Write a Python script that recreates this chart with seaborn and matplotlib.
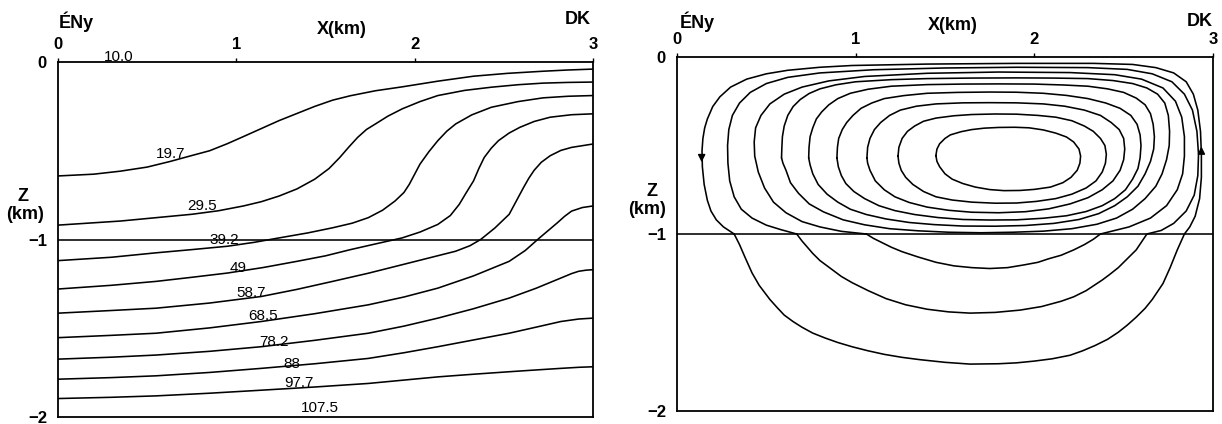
import matplotlib
matplotlib.use("Agg")
import matplotlib.pyplot as plt
import pandas as pd
import seaborn as sns

# ---------------- Left panel: isotherms, (x km, z km) points ----------------
iso_values = ["19.7", "29.5", "39.2", "49", "58.7", "68.5", "78.2", "88", "97.7"]

t197 = [(0.0, -0.642), (0.2, -0.632), (0.35, -0.615), (0.5, -0.592), (0.63, -0.56), (0.75, -0.527),
        (0.85, -0.50), (0.95, -0.46), (1.04, -0.42), (1.14, -0.375), (1.24, -0.33), (1.34, -0.29),
        (1.44, -0.25), (1.54, -0.215), (1.64, -0.19), (1.78, -0.162), (1.93, -0.14), (2.13, -0.108),
        (2.33, -0.08), (2.52, -0.064), (2.72, -0.052), (2.86, -0.045), (3.0, -0.04)]

t295 = [(0.0, -0.919), (0.35, -0.896), (0.75, -0.858), (0.9, -0.838), (1.04, -0.811), (1.14, -0.787),
        (1.24, -0.755), (1.34, -0.715), (1.44, -0.66), (1.52, -0.60), (1.58, -0.538), (1.63, -0.48),
        (1.68, -0.425), (1.73, -0.38), (1.78, -0.349), (1.85, -0.305), (1.93, -0.264), (2.03, -0.223),
        (2.13, -0.189), (2.28, -0.16), (2.43, -0.142), (2.58, -0.128), (2.72, -0.119), (2.86, -0.115),
        (3.0, -0.113)]

t392 = [(0.0, -1.119), (0.3, -1.10), (0.55, -1.075), (0.75, -1.057), (0.95, -1.038), (1.1, -1.016),
        (1.24, -0.991), (1.4, -0.963), (1.54, -0.934), (1.65, -0.908), (1.74, -0.877), (1.82, -0.835),
        (1.89, -0.783), (1.94, -0.735), (1.97, -0.689), (2.0, -0.632), (2.03, -0.575), (2.08, -0.505),
        (2.13, -0.443), (2.18, -0.39), (2.23, -0.349), (2.32, -0.298), (2.43, -0.255), (2.58, -0.223),
        (2.72, -0.202), (2.86, -0.193), (3.0, -0.189)]

t49 = [(0.0, -1.279), (0.3, -1.258), (0.55, -1.236), (0.75, -1.213), (0.95, -1.189), (1.15, -1.158),
       (1.34, -1.123), (1.5, -1.092), (1.64, -1.057), (1.78, -1.025), (1.93, -0.991), (2.03, -0.958),
       (2.13, -0.915), (2.2, -0.865), (2.25, -0.802), (2.29, -0.735), (2.33, -0.67), (2.36, -0.60),
       (2.39, -0.538), (2.43, -0.485), (2.47, -0.443), (2.53, -0.40), (2.59, -0.368), (2.67, -0.335),
       (2.76, -0.311), (2.88, -0.297), (3.0, -0.292)]

t587 = [(0.0, -1.415), (0.3, -1.40), (0.55, -1.387), (0.85, -1.358), (1.14, -1.321), (1.34, -1.281),
        (1.54, -1.236), (1.74, -1.19), (1.93, -1.142), (2.08, -1.104), (2.23, -1.066), (2.31, -1.035),
        (2.37, -1.0), (2.45, -0.935), (2.53, -0.858), (2.57, -0.783), (2.61, -0.708), (2.64, -0.655),
        (2.67, -0.61), (2.71, -0.565), (2.76, -0.528), (2.82, -0.498), (2.88, -0.481), (3.0, -0.462)]

t685 = [(0.0, -1.553), (0.3, -1.54), (0.55, -1.528), (0.85, -1.498), (1.14, -1.462), (1.44, -1.418),
        (1.74, -1.368), (1.94, -1.324), (2.13, -1.274), (2.33, -1.205), (2.53, -1.123), (2.62, -1.062),
        (2.70, -0.991), (2.76, -0.94), (2.80, -0.906), (2.84, -0.87), (2.88, -0.84), (2.94, -0.82),
        (3.0, -0.811)]

t782 = [(0.0, -1.674), (0.3, -1.663), (0.55, -1.651), (0.85, -1.63), (1.14, -1.604), (1.44, -1.568),
        (1.74, -1.528), (1.94, -1.488), (2.13, -1.443), (2.33, -1.39), (2.53, -1.33), (2.68, -1.275),
        (2.82, -1.217), (2.88, -1.192), (2.92, -1.179), (2.96, -1.173), (3.0, -1.17)]

t88 = [(0.0, -1.787), (0.3, -1.778), (0.55, -1.768), (0.85, -1.749), (1.14, -1.726), (1.44, -1.70),
       (1.74, -1.67), (1.94, -1.638), (2.13, -1.604), (2.33, -1.566), (2.53, -1.528), (2.68, -1.494),
       (2.82, -1.462), (2.92, -1.448), (3.0, -1.443)]

t977 = [(0.0, -1.896), (0.3, -1.889), (0.55, -1.881), (0.85, -1.866), (1.14, -1.849), (1.44, -1.831),
        (1.74, -1.811), (1.94, -1.792), (2.13, -1.774), (2.33, -1.759), (2.53, -1.745), (2.68, -1.735),
        (2.82, -1.726), (2.92, -1.72), (3.0, -1.717)]

iso_label_text = ["10.0", "19.7", "29.5", "39.2", "49", "58.7", "68.5", "78.2", "88", "97.7", "107.5"]
iso_label_x = [0.34, 0.63, 0.81, 0.93, 1.01, 1.08, 1.15, 1.21, 1.31, 1.35, 1.47]
iso_label_z = [0.03, -0.52, -0.81, -1.005, -1.16, -1.30, -1.43, -1.58, -1.70, -1.81, -1.95]

# ---------------- Right panel: streamlines of the convection cell ----------------
s1 = [(0.32, -1.0), (0.26, -0.96), (0.22, -0.92), (0.19, -0.87), (0.17, -0.81), (0.152, -0.72),
      (0.142, -0.62), (0.14, -0.53), (0.145, -0.46), (0.155, -0.40), (0.17, -0.35), (0.20, -0.28),
      (0.24, -0.225), (0.30, -0.17), (0.39, -0.125), (0.50, -0.095), (0.62, -0.075), (0.80, -0.058),
      (0.98, -0.048), (1.40, -0.04), (1.90, -0.036), (2.33, -0.036), (2.55, -0.042), (2.68, -0.06),
      (2.78, -0.09), (2.85, -0.14), (2.89, -0.21), (2.915, -0.30), (2.93, -0.42), (2.935, -0.55),
      (2.935, -0.68), (2.925, -0.80), (2.90, -0.90), (2.87, -0.96), (2.84, -1.0), (2.82, -1.045),
      (2.80, -1.09), (2.78, -1.14), (2.76, -1.19), (2.74, -1.235), (2.72, -1.28), (2.69, -1.325),
      (2.66, -1.37), (2.62, -1.42), (2.57, -1.47), (2.52, -1.515), (2.47, -1.555), (2.41, -1.595),
      (2.34, -1.63), (2.27, -1.66), (2.20, -1.685), (2.10, -1.705), (2.00, -1.718), (1.90, -1.728),
      (1.80, -1.733), (1.64, -1.735), (1.50, -1.725), (1.36, -1.71), (1.26, -1.697), (1.16, -1.68),
      (1.07, -1.66), (0.98, -1.637), (0.90, -1.613), (0.83, -1.588), (0.76, -1.56), (0.70, -1.527),
      (0.65, -1.495), (0.60, -1.458), (0.56, -1.415), (0.52, -1.37), (0.49, -1.33), (0.46, -1.29),
      (0.44, -1.255), (0.42, -1.22), (0.40, -1.175), (0.38, -1.13), (0.365, -1.095), (0.35, -1.06),
      (0.335, -1.03), (0.32, -1.0)]

s2 = [(0.67, -1.0), (0.58, -0.975), (0.50, -0.95), (0.42, -0.91), (0.36, -0.86), (0.32, -0.79),
      (0.295, -0.70), (0.285, -0.60), (0.283, -0.50), (0.29, -0.41), (0.31, -0.33), (0.35, -0.26),
      (0.41, -0.20), (0.50, -0.15), (0.62, -0.115), (0.80, -0.09), (1.10, -0.072), (1.50, -0.062),
      (1.90, -0.058), (2.30, -0.06), (2.52, -0.07), (2.66, -0.095), (2.77, -0.14), (2.84, -0.21),
      (2.885, -0.30), (2.91, -0.42), (2.919, -0.55), (2.915, -0.67), (2.895, -0.78), (2.85, -0.87),
      (2.78, -0.94), (2.71, -0.98), (2.63, -1.0), (2.60, -1.045), (2.57, -1.09), (2.52, -1.14),
      (2.47, -1.19), (2.42, -1.23), (2.38, -1.26), (2.29, -1.32), (2.22, -1.355), (2.15, -1.38),
      (2.04, -1.41), (1.92, -1.43), (1.78, -1.443), (1.64, -1.447), (1.52, -1.44), (1.40, -1.425),
      (1.28, -1.40), (1.17, -1.365), (1.07, -1.32), (0.98, -1.275), (0.92, -1.24), (0.88, -1.21),
      (0.84, -1.18), (0.80, -1.15), (0.76, -1.11), (0.73, -1.075), (0.70, -1.04), (0.67, -1.0)]

s3 = [(1.06, -1.0), (0.92, -0.985), (0.80, -0.96), (0.70, -0.93), (0.61, -0.88), (0.54, -0.82),
      (0.49, -0.74), (0.455, -0.65), (0.435, -0.56), (0.432, -0.48), (0.44, -0.40), (0.47, -0.33),
      (0.52, -0.265), (0.60, -0.21), (0.70, -0.17), (0.85, -0.135), (1.05, -0.11), (1.40, -0.092),
      (1.80, -0.085), (2.20, -0.088), (2.45, -0.10), (2.60, -0.125), (2.72, -0.175), (2.79, -0.25),
      (2.825, -0.34), (2.84, -0.45), (2.84, -0.56), (2.83, -0.66), (2.80, -0.75), (2.74, -0.84),
      (2.65, -0.91), (2.53, -0.96), (2.37, -1.0), (2.33, -1.03), (2.28, -1.06), (2.22, -1.09),
      (2.15, -1.12), (2.08, -1.14), (2.02, -1.16), (1.94, -1.175), (1.85, -1.19), (1.75, -1.195),
      (1.65, -1.19), (1.55, -1.18), (1.45, -1.16), (1.35, -1.13), (1.26, -1.10), (1.20, -1.075),
      (1.15, -1.05), (1.10, -1.025), (1.06, -1.0)]

s4 = [(0.585, -0.57), (0.587, -0.51), (0.59, -0.45), (0.60, -0.39), (0.62, -0.33), (0.65, -0.28),
      (0.69, -0.24), (0.74, -0.206), (0.80, -0.18), (0.89, -0.157), (1.00, -0.14), (1.20, -0.128),
      (1.40, -0.122), (1.65, -0.119), (1.90, -0.118), (2.10, -0.119), (2.30, -0.122), (2.44, -0.133),
      (2.55, -0.15), (2.63, -0.175), (2.69, -0.21), (2.73, -0.26), (2.75, -0.33), (2.757, -0.42),
      (2.755, -0.50), (2.74, -0.58), (2.715, -0.66), (2.68, -0.73), (2.62, -0.80), (2.55, -0.86),
      (2.46, -0.91), (2.35, -0.945), (2.21, -0.97), (2.05, -0.984), (1.88, -0.99), (1.70, -0.993),
      (1.52, -0.99), (1.35, -0.982), (1.19, -0.97), (1.05, -0.948), (0.93, -0.92), (0.82, -0.875),
      (0.74, -0.83), (0.68, -0.77), (0.635, -0.71), (0.61, -0.64), (0.593, -0.60), (0.585, -0.57)]

s5 = [(0.737, -0.57), (0.739, -0.51), (0.745, -0.45), (0.76, -0.40), (0.78, -0.35), (0.81, -0.31),
      (0.85, -0.27), (0.90, -0.235), (0.97, -0.205), (1.07, -0.182), (1.20, -0.165), (1.40, -0.156),
      (1.60, -0.153), (1.80, -0.152), (2.00, -0.153), (2.16, -0.158), (2.30, -0.165), (2.41, -0.18),
      (2.50, -0.20), (2.57, -0.232), (2.62, -0.27), (2.65, -0.32), (2.665, -0.38), (2.672, -0.45),
      (2.668, -0.52), (2.65, -0.59), (2.62, -0.66), (2.58, -0.73), (2.52, -0.79), (2.45, -0.84),
      (2.36, -0.885), (2.25, -0.918), (2.11, -0.94), (1.95, -0.952), (1.78, -0.956), (1.60, -0.955),
      (1.44, -0.947), (1.30, -0.935), (1.17, -0.915), (1.06, -0.89), (0.97, -0.86), (0.90, -0.82),
      (0.84, -0.775), (0.79, -0.72), (0.76, -0.66), (0.745, -0.61), (0.737, -0.57)]

s6 = [(0.895, -0.57), (0.898, -0.51), (0.905, -0.46), (0.925, -0.41), (0.95, -0.37), (0.985, -0.33),
      (1.03, -0.29), (1.09, -0.26), (1.16, -0.235), (1.27, -0.218), (1.40, -0.205), (1.57, -0.20),
      (1.75, -0.198), (1.90, -0.199), (2.05, -0.205), (2.18, -0.217), (2.30, -0.235), (2.40, -0.26),
      (2.48, -0.29), (2.54, -0.33), (2.575, -0.38), (2.592, -0.44), (2.597, -0.50), (2.592, -0.57),
      (2.58, -0.63), (2.55, -0.69), (2.51, -0.75), (2.45, -0.80), (2.38, -0.84), (2.29, -0.873),
      (2.18, -0.897), (2.05, -0.911), (1.90, -0.92), (1.75, -0.921), (1.60, -0.918), (1.46, -0.907),
      (1.33, -0.89), (1.22, -0.868), (1.13, -0.84), (1.05, -0.80), (0.99, -0.76), (0.945, -0.715),
      (0.92, -0.67), (0.903, -0.62), (0.895, -0.57)]

s7 = [(1.063, -0.57), (1.067, -0.51), (1.08, -0.46), (1.105, -0.41), (1.14, -0.37), (1.19, -0.33),
      (1.25, -0.30), (1.34, -0.278), (1.45, -0.265), (1.60, -0.259), (1.75, -0.258), (1.90, -0.259),
      (2.05, -0.265), (2.17, -0.278), (2.28, -0.30), (2.37, -0.33), (2.43, -0.37), (2.475, -0.41),
      (2.50, -0.46), (2.506, -0.52), (2.50, -0.58), (2.48, -0.64), (2.44, -0.70), (2.38, -0.75),
      (2.30, -0.795), (2.20, -0.83), (2.08, -0.858), (1.95, -0.874), (1.80, -0.88), (1.65, -0.877),
      (1.52, -0.866), (1.40, -0.848), (1.30, -0.822), (1.22, -0.79), (1.16, -0.75), (1.11, -0.70),
      (1.08, -0.64), (1.067, -0.60), (1.063, -0.57)]

s8 = [(1.237, -0.56), (1.242, -0.51), (1.26, -0.46), (1.29, -0.42), (1.33, -0.39), (1.38, -0.363),
      (1.45, -0.345), (1.55, -0.332), (1.65, -0.325), (1.78, -0.322), (1.90, -0.323), (2.02, -0.33),
      (2.12, -0.34), (2.21, -0.36), (2.28, -0.39), (2.33, -0.42), (2.37, -0.46), (2.395, -0.50),
      (2.403, -0.55), (2.398, -0.60), (2.38, -0.65), (2.345, -0.70), (2.29, -0.74), (2.21, -0.775),
      (2.12, -0.80), (2.01, -0.816), (1.90, -0.825), (1.78, -0.826), (1.65, -0.82), (1.54, -0.808),
      (1.45, -0.79), (1.38, -0.76), (1.32, -0.72), (1.28, -0.68), (1.255, -0.64), (1.242, -0.60),
      (1.237, -0.56)]

s9 = [(1.449, -0.557), (1.455, -0.52), (1.47, -0.49), (1.50, -0.46), (1.53, -0.44), (1.59, -0.422),
      (1.65, -0.41), (1.72, -0.402), (1.80, -0.398), (1.89, -0.397), (1.97, -0.40), (2.05, -0.412),
      (2.12, -0.43), (2.18, -0.452), (2.22, -0.48), (2.25, -0.52), (2.259, -0.56), (2.255, -0.60),
      (2.24, -0.64), (2.205, -0.68), (2.16, -0.71), (2.09, -0.735), (2.00, -0.748), (1.92, -0.754),
      (1.83, -0.755), (1.75, -0.749), (1.67, -0.735), (1.60, -0.715), (1.54, -0.69), (1.50, -0.66),
      (1.47, -0.62), (1.455, -0.59), (1.449, -0.557)]

# flow direction marks on the outermost streamline
arrow_x = [0.138, 2.935]
arrow_z = [-0.58, -0.52]
arrow_dir = [-1, 1]

x_ticks = [0, 1, 2, 3]
z_ticks = [0, -1, -2]
z_tick_labels = ["0", "\u22121", "\u22122"]

# ---------------- long-form tables ----------------
iso_curves = [t197, t295, t392, t49, t587, t685, t782, t88, t977]
iso_df = pd.concat(
    [pd.DataFrame({"x": [p[0] for p in pts], "z": [p[1] for p in pts], "T": v})
     for v, pts in zip(iso_values, iso_curves)], ignore_index=True)

stream_curves = [s1, s2, s3, s4, s5, s6, s7, s8, s9]
stream_df = pd.concat(
    [pd.DataFrame({"x": [p[0] for p in pts], "z": [p[1] for p in pts], "line": i})
     for i, pts in enumerate(stream_curves)], ignore_index=True)

# ---------------- figure ----------------
sns.set_theme(style="white")
plt.rcParams["font.family"] = ["Liberation Sans", "DejaVu Sans"]
W, H = 1222, 424
fig = plt.figure(figsize=(W / 100, H / 100), dpi=100)
fig.patch.set_facecolor("white")

axL = fig.add_axes([58 / W, 7 / H, 535 / W, 355 / H])
axR = fig.add_axes([677 / W, 13 / H, 536 / W, 354 / H])

LW = 1.15
for ax in (axL, axR):
    ax.set_xlim(0, 3)
    ax.set_ylim(-2, 0)
    ax.set_facecolor("white")
    for s in ax.spines.values():
        s.set_visible(True)
        s.set_color("black")
        s.set_linewidth(1.3)
    ax.xaxis.tick_top()
    ax.set_xticks(x_ticks)
    ax.set_yticks(z_ticks)
    ax.set_xticklabels([str(t) for t in x_ticks])
    ax.set_yticklabels(z_tick_labels)
    ax.tick_params(axis="both", direction="out", length=3, width=1.0, color="black",
                   labelsize=12, labelcolor="black")
    ax.tick_params(axis="x", pad=4)
    ax.tick_params(axis="y", pad=5)
    for lab in ax.get_xticklabels() + ax.get_yticklabels():
        lab.set_fontweight("bold")
    ax.axhline(-1, color="black", lw=LW, zorder=1)

# isotherms
for v in iso_values:
    sub = iso_df[iso_df["T"] == v]
    sns.lineplot(data=sub, x="x", y="z", sort=False, estimator=None, color="black",
                 lw=LW, ax=axL, legend=False, solid_joinstyle="round")
for t, lx, lz in zip(iso_label_text, iso_label_x, iso_label_z):
    axL.text(lx, lz, t, ha="center", va="center", fontsize=11, color="black")

# streamlines
for i in range(len(stream_curves)):
    sub = stream_df[stream_df["line"] == i]
    sns.lineplot(data=sub, x="x", y="z", sort=False, estimator=None, color="black",
                 lw=LW, ax=axR, legend=False, solid_joinstyle="round")
for xa, za, d in zip(arrow_x, arrow_z, arrow_dir):
    axR.annotate("", xy=(xa, za + 0.03 * d), xytext=(xa, za - 0.03 * d),
                 arrowprops=dict(arrowstyle="-|>", color="black", lw=1.0, mutation_scale=11))

for ax in (axL, axR):
    ax.set_xlabel("")
    ax.set_ylabel("")

# frame captions
def ftext(px, py, s, **kw):
    fig.text(px / W, 1 - py / H, s, ha="center", va="center", color="black", **kw)

for (eny, xkm, dk, zz, km) in [((76, 22), (342, 29), (578, 20), (23, 197), (25, 214)),
                               ((697, 22), (953, 25), (1200, 21), (652, 192), (647, 209))]:
    ftext(*eny, "ÉNy", fontsize=13, fontweight="bold")
    ftext(*xkm, "X(km)", fontsize=13, fontweight="bold")
    ftext(*dk, "DK", fontsize=13, fontweight="bold")
    ftext(*zz, "Z", fontsize=13, fontweight="bold")
    ftext(*km, "(km)", fontsize=13, fontweight="bold")

fig.savefig("out.png", dpi=100, facecolor="white")
